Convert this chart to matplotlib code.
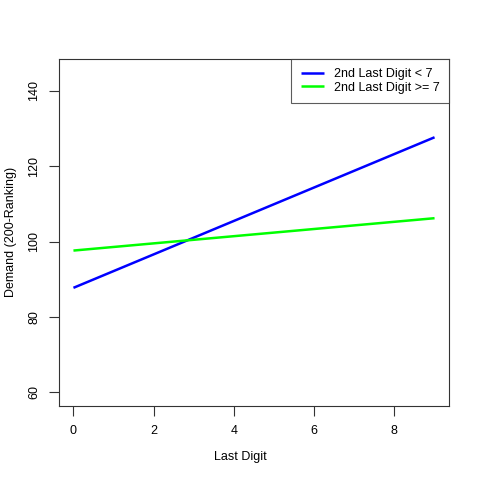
import matplotlib
matplotlib.use("Agg")
import matplotlib.pyplot as plt
import numpy as np

plt.rcParams['font.family'] = ['Liberation Sans', 'DejaVu Sans']

x_vals = [0, 9]
blue_vals = [87.7, 127.7]
green_vals = [97.6, 106.2]
series_labels = ["2nd Last Digit < 7", "2nd Last Digit >= 7"]
xticks = [0, 2, 4, 6, 8]
yticks = [60, 80, 100, 120, 140]

fs = 9
fig = plt.figure(figsize=(4.8, 4.8), dpi=100)
ax = fig.add_axes([59/480, (480-406)/480, (449-59)/480, (406-59)/480])
ax.plot(x_vals, blue_vals, color='#0000FF', lw=1.8, solid_capstyle='butt', label=series_labels[0])
ax.plot(x_vals, green_vals, color='#00FF00', lw=1.8, solid_capstyle='butt', label=series_labels[1])

ax.set_xlim(-0.36, 9.36)
ax.set_ylim(56.3, 148.5)
ax.set_xticks(xticks)
ax.set_yticks(yticks)
ax.set_yticklabels([str(v) for v in yticks], rotation=90, va='center')
ax.tick_params(axis='both', length=7, width=0.8, labelsize=fs, pad=6.5, color='#333333')
for s in ax.spines.values():
    s.set_color('#333333')
    s.set_linewidth(0.8)

ax.set_xlabel("Last Digit", fontsize=fs)
ax.set_ylabel("Demand (200-Ranking)", fontsize=fs)
ax.xaxis.set_label_coords((240-59)/390, (406-457)/347)
ax.yaxis.set_label_coords((11-59)/390, (406-232)/347)
ax.xaxis.label.set_va('center')
ax.yaxis.label.set_va('center')

leg = ax.legend(loc='upper right', fontsize=fs, frameon=True, fancybox=False,
                borderaxespad=0, handlelength=1.85, handletextpad=0.8,
                borderpad=0.75, labelspacing=0.1)
leg.get_frame().set_edgecolor('#333333')
leg.get_frame().set_linewidth(0.8)

fig.savefig("out.png", dpi=100)
